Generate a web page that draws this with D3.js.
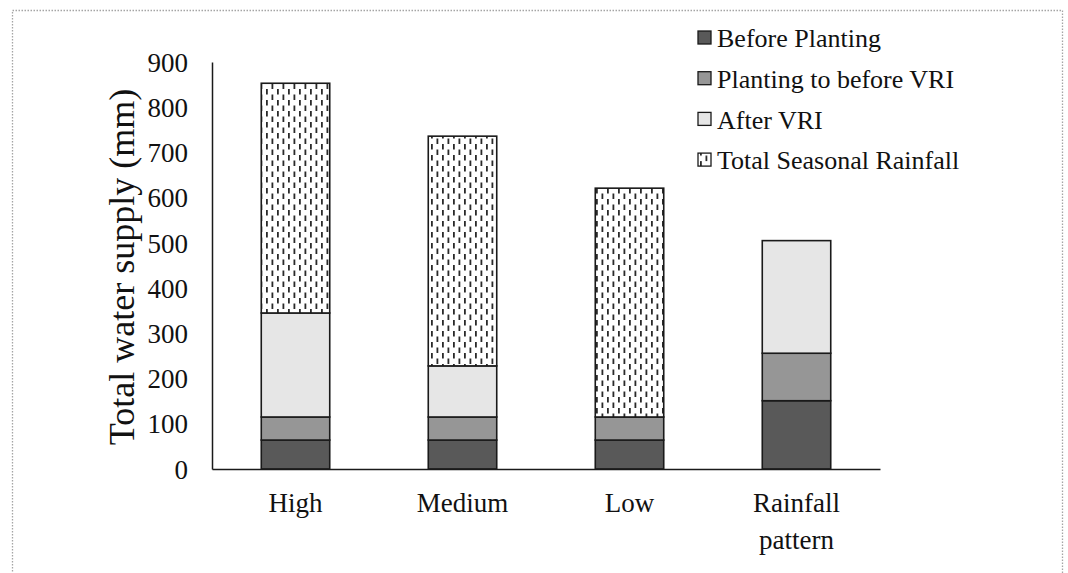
<!doctype html>
<html>
<head>
<meta charset="utf-8">
<script src="https://cdnjs.cloudflare.com/ajax/libs/d3/7.8.5/d3.min.js"></script>
<style>
  body { margin: 0; background: #fff; }
  svg { display: block; }
  svg text { font-family: "Liberation Serif", "Times New Roman", serif; fill: #111; }
</style>
</head>
<body>
<svg id="chart" width="1068" height="573"></svg>
<script>
// chart data
var categories = ["High", "Medium", "Low", "Rainfall pattern"];
var seriesNames = ["Before Planting", "Planting to before VRI", "After VRI", "Total Seasonal Rainfall"];
var beforePlanting = [64, 64, 64, 151];
var plantingToVRI = [51, 51, 51, 105];
var afterVRI = [230, 113, 0, 249];
var seasonalRainfall = [508, 508, 506, 0];
var yTicks = [0, 100, 200, 300, 400, 500, 600, 700, 800, 900];

var fills = ["#595959", "#969696", "#e6e6e6", "url(#dashes)"];

var svg = d3.select("#chart");

// dotted frame round the whole picture
svg.append("rect")
    .attr("x", 12.5).attr("y", 10.5)
    .attr("width", 1050).attr("height", 600)
    .attr("fill", "none")
    .attr("stroke", "#a5a5a5")
    .attr("stroke-width", 1.3)
    .attr("stroke-dasharray", "1.5,1.5");

// vertical dash pattern
var pat = svg.append("defs").append("pattern")
    .attr("id", "dashes")
    .attr("patternUnits", "userSpaceOnUse")
    .attr("width", 11).attr("height", 11);
pat.append("rect").attr("width", 11).attr("height", 11).attr("fill", "#fff");
pat.append("rect").attr("x", 2).attr("y", 1).attr("width", 1.8).attr("height", 5.5).attr("fill", "#2a2a2a");
pat.append("rect").attr("x", 7.5).attr("y", 6.5).attr("width", 1.8).attr("height", 5.5).attr("fill", "#2a2a2a");
pat.append("rect").attr("x", 7.5).attr("y", -4.5).attr("width", 1.8).attr("height", 5.5).attr("fill", "#2a2a2a");

var x = d3.scaleBand()
    .domain(categories)
    .range([212, 880])
    .paddingInner(0.59)
    .paddingOuter(0.295);

var y = d3.scaleLinear()
    .domain([0, 900])
    .range([469, 62]);

var rows = categories.map(function(c, i) {
    return {
        cat: c,
        s0: beforePlanting[i],
        s1: plantingToVRI[i],
        s2: afterVRI[i],
        s3: seasonalRainfall[i]
    };
});
var stack = d3.stack().keys(["s0", "s1", "s2", "s3"]);
var layers = stack(rows);

svg.selectAll("g.layer")
    .data(layers)
    .enter()
    .append("g")
    .attr("class", "layer")
    .attr("fill", function(d, i) { return fills[i]; })
    .selectAll("rect")
    .data(function(d) { return d.filter(function(p) { return p[1] > p[0]; }); })
    .enter()
    .append("rect")
    .attr("x", function(d) { return x(d.data.cat); })
    .attr("y", function(d) { return y(d[1]); })
    .attr("width", x.bandwidth())
    .attr("height", function(d) { return y(d[0]) - y(d[1]); })
    .attr("stroke", "#1a1a1a")
    .attr("stroke-width", 1.6);

// y axis
var yAxis = svg.append("g")
    .attr("transform", "translate(212,0)")
    .call(d3.axisLeft(y).tickValues(yTicks).tickSize(0).tickPadding(24));
yAxis.select(".domain").attr("stroke", "#1a1a1a").attr("stroke-width", 1.5);
yAxis.selectAll("text")
    .attr("font-size", 27)
    .attr("dy", "0.34em");

// x axis
var xAxis = svg.append("g")
    .attr("transform", "translate(0,469)")
    .call(d3.axisBottom(x).tickSize(0).tickPadding(0));
xAxis.select(".domain").attr("stroke", "#1a1a1a").attr("stroke-width", 1.5);
xAxis.selectAll(".tick text").remove();
xAxis.selectAll(".tick").each(function(d) {
    var words = d === "Rainfall pattern" ? ["Rainfall", "pattern"] : [d];
    var t = d3.select(this).append("text")
        .attr("font-size", 27)
        .attr("text-anchor", "middle");
    words.forEach(function(w, k) {
        t.append("tspan").attr("x", 0).attr("y", 43 + k * 37).text(w);
    });
});

// axis title
svg.append("text")
    .attr("transform", "translate(134,267) rotate(-90)")
    .attr("text-anchor", "middle")
    .attr("font-size", 36)
    .text("Total water supply (mm)");

// legend
var legend = svg.selectAll("g.legend")
    .data(seriesNames)
    .enter()
    .append("g")
    .attr("class", "legend")
    .attr("transform", function(d, i) { return "translate(698," + (38 + i * 40.7) + ")"; });
legend.append("rect")
    .attr("x", 0).attr("y", -7)
    .attr("width", 13).attr("height", 13)
    .attr("fill", function(d, i) { return fills[i]; })
    .attr("stroke", "#1a1a1a")
    .attr("stroke-width", 1.3);
legend.append("text")
    .attr("x", 19).attr("y", 0)
    .attr("dy", "0.35em")
    .attr("font-size", 26)
    .text(function(d) { return d; });
</script>
</body>
</html>
